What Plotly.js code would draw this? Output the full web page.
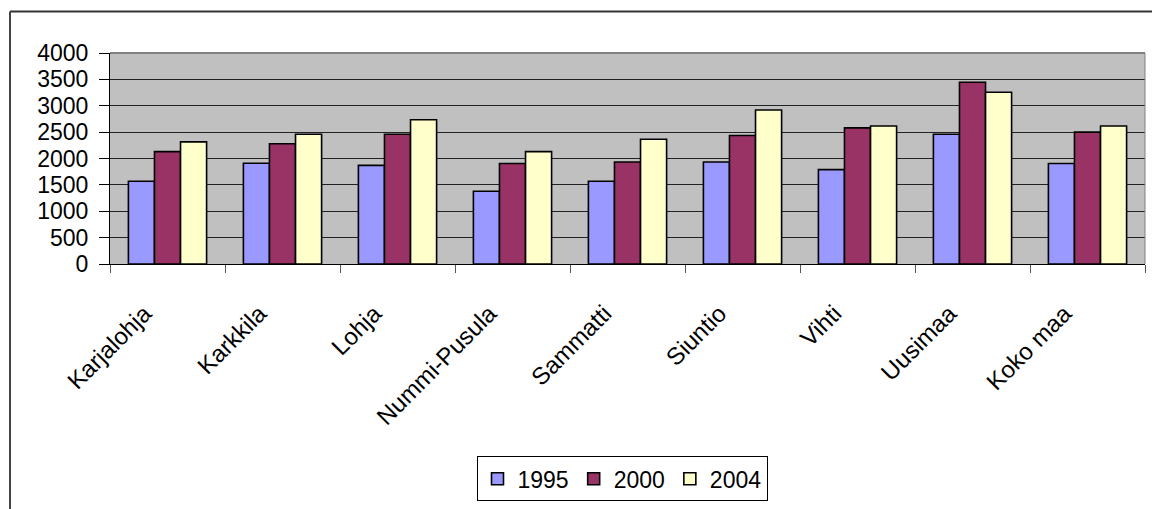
<!DOCTYPE html>
<html>
<head>
<meta charset="utf-8">
<script src="https://cdn.plot.ly/plotly-3.0.1.min.js"></script>
<style>html,body{margin:0;padding:0;background:#fff;}#chart{width:1152px;height:509px;}</style>
</head>
<body>
<div id="chart"></div>
<script>
const categories = ["Karjalohja", "Karkkila", "Lohja", "Nummi-Pusula", "Sammatti", "Siuntio", "Vihti", "Uusimaa", "Koko maa"];
const seriesNames = ["1995", "2000", "2004"];
const values1995 = [1570, 1910, 1870, 1380, 1570, 1935, 1790, 2460, 1905];
const values2000 = [2130, 2280, 2460, 1905, 1935, 2435, 2580, 3445, 2500];
const values2004 = [2315, 2460, 2735, 2130, 2365, 2920, 2615, 3255, 2615];
const yTicks = [0, 500, 1000, 1500, 2000, 2500, 3000, 3500, 4000];

const colors = ["#9999FF", "#993366", "#FFFFCC"];
const allValues = [values1995, values2000, values2004];

const traces = allValues.map((vals, i) => ({
  type: "bar",
  name: seriesNames[i],
  x: categories,
  y: vals,
  marker: { color: colors[i], line: { color: "#000000", width: 1.6 } }
}));

const fontFam = "Liberation Sans, Arial, sans-serif";
const L = 110, R = 7, T = 53, B = 242;
const W = 1152 - L - R, H = 509 - T - B;
const px = v => (v - L) / W;
const py = v => (509 - B - v) / H;

const layout = {
  width: 1152, height: 509,
  margin: { l: L, r: R, t: T, b: B, pad: 0 },
  paper_bgcolor: "#ffffff",
  plot_bgcolor: "#C0C0C0",
  barmode: "group",
  bargap: 0.32,
  bargroupgap: 0,
  showlegend: true,
  font: { family: fontFam, size: 22, color: "#000" },
  xaxis: {
    type: "category",
    tickson: "boundaries",
    ticks: "outside", ticklen: 8, tickcolor: "#555", tickwidth: 1,
    tickangle: -45,
    ticklabelstandoff: 25,
    ticklabelshift: -23,
    tickfont: { family: fontFam, size: 24, color: "#000" },
    showline: true, linecolor: "#000", linewidth: 1,
    showgrid: false, zeroline: false,
    fixedrange: true
  },
  yaxis: {
    range: [0, 4000],
    tickvals: yTicks,
    ticktext: yTicks.map(String),
    ticks: "outside", ticklen: 10, tickcolor: "#000", tickwidth: 1,
    ticklabelstandoff: 6,
    tickfont: { family: fontFam, size: 23, color: "#000" },
    showline: true, linecolor: "#000", linewidth: 1,
    showgrid: true, gridcolor: "#222", gridwidth: 1,
    zeroline: false,
    fixedrange: true
  },
  legend: {
    orientation: "h",
    x: px(622), xanchor: "center",
    y: py(462), yanchor: "top",
    bgcolor: "#ffffff",
    bordercolor: "#000", borderwidth: 1,
    font: { family: fontFam, size: 23, color: "#000" },
    itemwidth: 30,
    itemclick: false, itemdoubleclick: false
  },
  shapes: [
    { type: "line", xref: "paper", yref: "paper", x0: 0, x1: 1, y0: 1, y1: 1, line: { color: "#808080", width: 2 } },
    { type: "line", xref: "paper", yref: "paper", x0: 1, x1: 1, y0: 0, y1: 1, line: { color: "#808080", width: 1 } },
    { type: "line", xref: "paper", yref: "paper", x0: px(10), x1: px(1160), y0: py(11), y1: py(11), line: { color: "#333", width: 2 } },
    { type: "line", xref: "paper", yref: "paper", x0: px(10), x1: px(10), y0: py(11), y1: py(520), line: { color: "#444", width: 2 } }
  ]
};

Plotly.newPlot("chart", traces, layout, { displayModeBar: false, staticPlot: true });
</script>
</body>
</html>
